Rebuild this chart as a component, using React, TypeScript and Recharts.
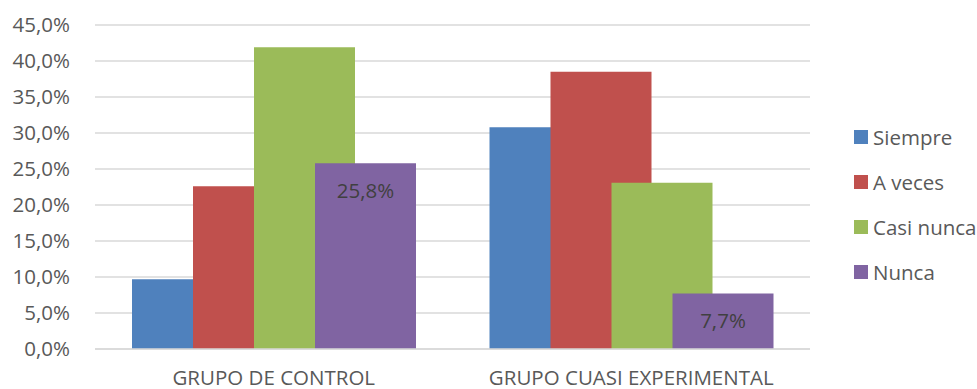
import React from "react";
import {
  BarChart,
  Bar,
  XAxis,
  YAxis,
  CartesianGrid,
  LabelList,
} from "recharts";

const categories = ["GRUPO DE CONTROL", "GRUPO CUASI EXPERIMENTAL"];
const siempre = [9.7, 30.8];
const aVeces = [22.6, 38.5];
const casiNunca = [41.9, 23.1];
const nunca = [25.8, 7.7];
const yTicks = [0, 5, 10, 15, 20, 25, 30, 35, 40, 45];

const series = [
  { key: "siempre", name: "Siempre", color: "#4F81BD" },
  { key: "aVeces", name: "A veces", color: "#C0504D" },
  { key: "casiNunca", name: "Casi nunca", color: "#9BBB59" },
  { key: "nunca", name: "Nunca", color: "#8064A2" },
];

const FONT = "'Open Sans', sans-serif";
const FS = 20.5;

function pct(v: any) {
  return `${Number(v).toFixed(1).replace(".", ",")}%`;
}

function LegendBox() {
  return (
    <div
      style={{
        position: "absolute",
        left: 854,
        top: 114,
        fontFamily: FONT,
        fontSize: FS,
        color: "#595959",
      }}
    >
      {series.map((s) => (
        <div
          key={s.key}
          style={{ display: "flex", alignItems: "center", height: 45, whiteSpace: "nowrap" }}
        >
          <span
            style={{
              display: "inline-block",
              width: 14,
              height: 14,
              background: s.color,
              marginRight: 5,
            }}
          />
          {s.name}
        </div>
      ))}
    </div>
  );
}

export default function App() {
  const data = categories.map((c, i) => ({
    cat: c,
    siempre: siempre[i],
    aVeces: aVeces[i],
    casiNunca: casiNunca[i],
    nunca: nunca[i],
  }));

  return (
    <div style={{ position: "absolute", left: 0, top: 0, width: 977, height: 389, background: "#fff", overflow: "hidden" }}>
      <BarChart
        width={977}
        height={389}
        data={data}
        margin={{ top: 25, right: 167, bottom: 10, left: 0 }}
        barSize={101}
        barGap={-40}
      >
        <CartesianGrid vertical={false} stroke="#d9d9d9" strokeWidth={1.3} />
        <XAxis
          dataKey="cat"
          axisLine={{ stroke: "#d9d9d9", strokeWidth: 1.3 }}
          tickLine={false}
          tickMargin={15}
          tick={{ fill: "#595959", fontSize: FS, fontFamily: FONT }}
        />
        <YAxis
          width={95}
          domain={[0, 45]}
          ticks={yTicks}
          tickFormatter={pct}
          axisLine={false}
          tickLine={false}
          tickSize={0}
          tickMargin={25}
          tick={{ fill: "#595959", fontSize: FS, fontFamily: FONT }}
        />
        {series.map((s) => (
          <Bar key={s.key} dataKey={s.key} name={s.name} fill={s.color} isAnimationActive={false}>
            {s.key === "nunca" ? (
              <LabelList
                dataKey="nunca"
                position="insideTop"
                offset={20}
                formatter={pct}
                fill="#404040"
                fontSize={FS}
                fontFamily={FONT}
              />
            ) : null}
          </Bar>
        ))}
      </BarChart>
      <LegendBox />
    </div>
  );
}
